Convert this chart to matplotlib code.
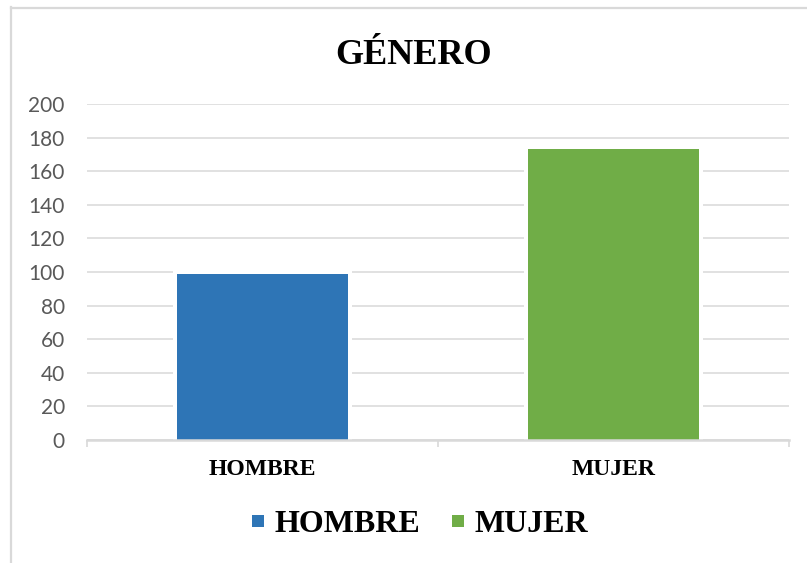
import matplotlib
matplotlib.use("Agg")
import matplotlib.pyplot as plt
from matplotlib.lines import Line2D

categories = ["HOMBRE", "MUJER"]
values = [99, 173]
colors = ["#2E75B6", "#70AD47"]
yticks = [0, 20, 40, 60, 80, 100, 120, 140, 160, 180, 200]
title = "GÉNERO"

DPI = 100
fig = plt.figure(figsize=(8.07, 5.63), dpi=DPI)
W, H = 807, 563
ax = fig.add_axes([87 / W, (H - 440) / H, (789 - 87) / W, (440 - 104) / H])

x = list(range(len(categories)))
# white halo behind each bar (hides gridlines next to the bars)
ax.bar(x, values, width=0.49, color="white", edgecolor="white", linewidth=5.8, zorder=1.5)
ax.bar(x, values, width=0.49, color=colors, linewidth=0, zorder=2)

ax.set_xlim(-0.5, 1.5)
ax.set_ylim(0, 200)
ax.set_yticks(yticks)
ax.set_yticklabels([str(t) for t in yticks], family="Lato", fontsize=15, color="#595959")
ax.tick_params(axis="y", length=0, pad=16)

ax.set_xticks(x)
ax.set_xticklabels(categories, family="Liberation Serif", fontweight="bold", fontsize=17, color="black")
ax.tick_params(axis="x", which="major", length=0, pad=14)
ax.set_xticks([-0.5, 0.5, 1.5], minor=True)
ax.tick_params(axis="x", which="minor", length=5, width=1.2, color="#d9d9d9", direction="out")

ax.grid(axis="y", color="#d9d9d9", linewidth=1.1, zorder=0)
ax.set_axisbelow(True)
for s in ["left", "right", "top"]:
    ax.spines[s].set_visible(False)
ax.spines["bottom"].set_color("#d9d9d9")
ax.spines["bottom"].set_linewidth(1.8)
ax.spines["bottom"].set_zorder(3)

fig.text(414 / W, 1 - 55 / H, title, ha="center", va="center",
         family="Liberation Serif", fontweight="bold", fontsize=26)

handles = [Line2D([], [], marker="s", linestyle="none", markersize=8.8,
                  markerfacecolor=c, markeredgewidth=0) for c in colors]
fig.legend(handles, categories, loc="center", bbox_to_anchor=(420 / W, 1 - 524 / H),
           ncol=2, frameon=False, handlelength=0.4, handletextpad=0.3, columnspacing=1.0,
           prop={"family": "Liberation Serif", "weight": "bold", "size": 23})

# chart border (light gray)
fig.add_artist(Line2D([11 / W, 11 / W], [0, 1 - 7 / H], transform=fig.transFigure,
                      color="#d9d9d9", linewidth=1.6))
fig.add_artist(Line2D([11 / W, 1], [1 - 7.5 / H, 1 - 7.5 / H], transform=fig.transFigure,
                      color="#d9d9d9", linewidth=1.6))

fig.savefig("out.png", dpi=DPI)
